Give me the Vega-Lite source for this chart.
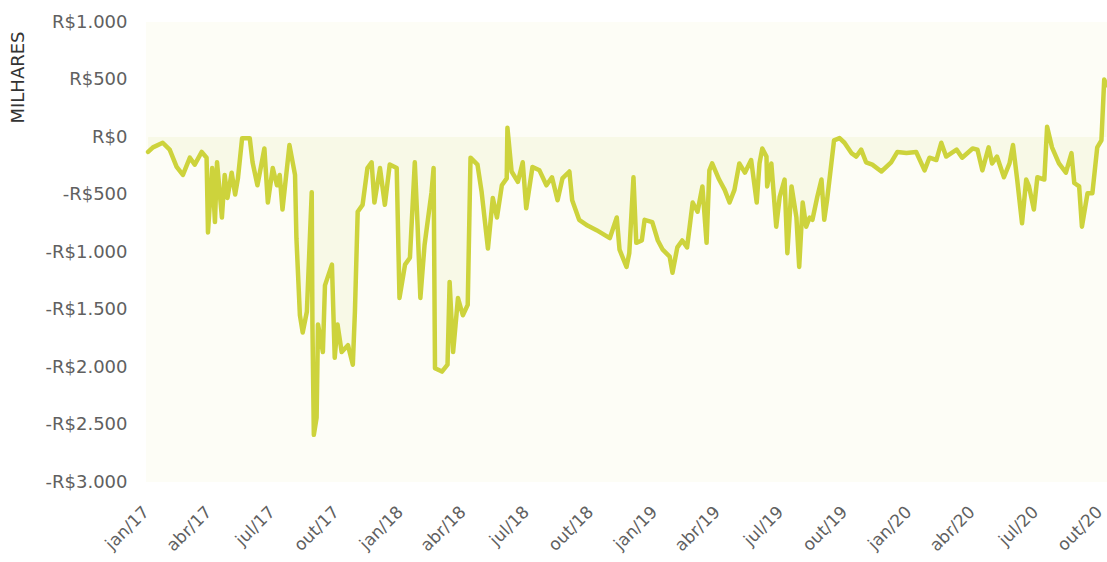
{
  "$schema": "https://vega.github.io/schema/vega-lite/v6.json",
  "width": 961,
  "height": 460,
  "autosize": {"type": "none"},
  "padding": {"left": 146, "top": 22, "right": 0, "bottom": 80},
  "background": "white",
  "config": {
    "view": {"stroke": null, "fill": "#fdfdf6"},
    "axis": {"labelFont": "DejaVu Sans", "titleFont": "DejaVu Sans", "grid": false, "domain": false, "ticks": false, "tickSize": 0}
  },
  "data": {"values": [
    {"d": "2017-01-04", "v": -130}, {"d": "2017-01-11", "v": -90}, {"d": "2017-01-25", "v": -50}, {"d": "2017-02-04", "v": -110},
    {"d": "2017-02-14", "v": -260}, {"d": "2017-02-23", "v": -330}, {"d": "2017-03-05", "v": -180}, {"d": "2017-03-12", "v": -240},
    {"d": "2017-03-22", "v": -130}, {"d": "2017-03-29", "v": -180}, {"d": "2017-03-31", "v": -830}, {"d": "2017-04-06", "v": -270},
    {"d": "2017-04-10", "v": -740}, {"d": "2017-04-13", "v": -220}, {"d": "2017-04-20", "v": -700}, {"d": "2017-04-24", "v": -330},
    {"d": "2017-04-28", "v": -530}, {"d": "2017-05-04", "v": -310}, {"d": "2017-05-09", "v": -500}, {"d": "2017-05-13", "v": -360},
    {"d": "2017-05-19", "v": -10}, {"d": "2017-05-30", "v": -10}, {"d": "2017-06-03", "v": -220}, {"d": "2017-06-10", "v": -420},
    {"d": "2017-06-20", "v": -100}, {"d": "2017-06-25", "v": -570}, {"d": "2017-07-02", "v": -270}, {"d": "2017-07-08", "v": -420},
    {"d": "2017-07-12", "v": -330}, {"d": "2017-07-16", "v": -630}, {"d": "2017-07-26", "v": -70}, {"d": "2017-08-03", "v": -330},
    {"d": "2017-08-05", "v": -880}, {"d": "2017-08-10", "v": -1550}, {"d": "2017-08-14", "v": -1700}, {"d": "2017-08-20", "v": -1520},
    {"d": "2017-08-27", "v": -480}, {"d": "2017-08-28", "v": -1630}, {"d": "2017-08-30", "v": -2590}, {"d": "2017-09-03", "v": -2440},
    {"d": "2017-09-05", "v": -1630}, {"d": "2017-09-12", "v": -1870}, {"d": "2017-09-15", "v": -1290}, {"d": "2017-09-25", "v": -1110},
    {"d": "2017-09-29", "v": -1920}, {"d": "2017-10-03", "v": -1630}, {"d": "2017-10-09", "v": -1870}, {"d": "2017-10-18", "v": -1810},
    {"d": "2017-10-25", "v": -1980}, {"d": "2017-10-28", "v": -1520}, {"d": "2017-11-01", "v": -650}, {"d": "2017-11-08", "v": -590},
    {"d": "2017-11-15", "v": -270}, {"d": "2017-11-21", "v": -220}, {"d": "2017-11-25", "v": -570}, {"d": "2017-12-03", "v": -270},
    {"d": "2017-12-10", "v": -590}, {"d": "2017-12-17", "v": -240}, {"d": "2017-12-27", "v": -270}, {"d": "2017-12-31", "v": -1400},
    {"d": "2018-01-08", "v": -1110}, {"d": "2018-01-15", "v": -1050}, {"d": "2018-01-22", "v": -220}, {"d": "2018-01-26", "v": -770},
    {"d": "2018-01-30", "v": -1400}, {"d": "2018-02-05", "v": -940}, {"d": "2018-02-15", "v": -480}, {"d": "2018-02-18", "v": -270},
    {"d": "2018-02-20", "v": -2010}, {"d": "2018-03-02", "v": -2040}, {"d": "2018-03-10", "v": -1980}, {"d": "2018-03-13", "v": -1260},
    {"d": "2018-03-18", "v": -1870}, {"d": "2018-03-25", "v": -1400}, {"d": "2018-04-01", "v": -1550}, {"d": "2018-04-08", "v": -1460},
    {"d": "2018-04-12", "v": -180}, {"d": "2018-04-22", "v": -240}, {"d": "2018-04-28", "v": -480}, {"d": "2018-05-07", "v": -970},
    {"d": "2018-05-14", "v": -530}, {"d": "2018-05-20", "v": -700}, {"d": "2018-05-27", "v": -420}, {"d": "2018-06-03", "v": -360},
    {"d": "2018-06-04", "v": 80}, {"d": "2018-06-10", "v": -300}, {"d": "2018-06-19", "v": -390}, {"d": "2018-06-26", "v": -220},
    {"d": "2018-07-01", "v": -620}, {"d": "2018-07-10", "v": -260}, {"d": "2018-07-20", "v": -290}, {"d": "2018-07-30", "v": -420},
    {"d": "2018-08-07", "v": -350}, {"d": "2018-08-15", "v": -550}, {"d": "2018-08-22", "v": -360}, {"d": "2018-09-01", "v": -300},
    {"d": "2018-09-05", "v": -550}, {"d": "2018-09-15", "v": -720}, {"d": "2018-09-27", "v": -770}, {"d": "2018-10-10", "v": -810},
    {"d": "2018-10-29", "v": -880}, {"d": "2018-11-08", "v": -700}, {"d": "2018-11-12", "v": -980}, {"d": "2018-11-22", "v": -1130},
    {"d": "2018-11-26", "v": -1010}, {"d": "2018-12-02", "v": -350}, {"d": "2018-12-06", "v": -920}, {"d": "2018-12-14", "v": -900},
    {"d": "2018-12-18", "v": -720}, {"d": "2018-12-29", "v": -740}, {"d": "2019-01-06", "v": -900}, {"d": "2019-01-13", "v": -980},
    {"d": "2019-01-23", "v": -1040}, {"d": "2019-01-27", "v": -1180}, {"d": "2019-02-03", "v": -960}, {"d": "2019-02-10", "v": -900},
    {"d": "2019-02-17", "v": -960}, {"d": "2019-02-25", "v": -570}, {"d": "2019-03-04", "v": -650}, {"d": "2019-03-11", "v": -430},
    {"d": "2019-03-17", "v": -920}, {"d": "2019-03-21", "v": -290}, {"d": "2019-03-25", "v": -230}, {"d": "2019-04-04", "v": -370},
    {"d": "2019-04-12", "v": -460}, {"d": "2019-04-19", "v": -570}, {"d": "2019-04-26", "v": -460}, {"d": "2019-05-03", "v": -230},
    {"d": "2019-05-11", "v": -310}, {"d": "2019-05-20", "v": -200}, {"d": "2019-05-28", "v": -570}, {"d": "2019-06-01", "v": -230},
    {"d": "2019-06-05", "v": -100}, {"d": "2019-06-11", "v": -170}, {"d": "2019-06-12", "v": -430}, {"d": "2019-06-18", "v": -230},
    {"d": "2019-06-25", "v": -780}, {"d": "2019-06-30", "v": -520}, {"d": "2019-07-07", "v": -370}, {"d": "2019-07-11", "v": -1010},
    {"d": "2019-07-17", "v": -430}, {"d": "2019-07-24", "v": -700}, {"d": "2019-07-28", "v": -1130}, {"d": "2019-08-02", "v": -570},
    {"d": "2019-08-07", "v": -780}, {"d": "2019-08-12", "v": -700}, {"d": "2019-08-16", "v": -720}, {"d": "2019-08-23", "v": -520},
    {"d": "2019-08-29", "v": -370}, {"d": "2019-09-02", "v": -720}, {"d": "2019-09-06", "v": -550}, {"d": "2019-09-16", "v": -30},
    {"d": "2019-09-24", "v": -10}, {"d": "2019-10-01", "v": -50}, {"d": "2019-10-11", "v": -140}, {"d": "2019-10-18", "v": -170},
    {"d": "2019-10-25", "v": -110}, {"d": "2019-11-01", "v": -220}, {"d": "2019-11-10", "v": -240}, {"d": "2019-11-23", "v": -300},
    {"d": "2019-12-07", "v": -220}, {"d": "2019-12-16", "v": -130}, {"d": "2019-12-29", "v": -140}, {"d": "2020-01-12", "v": -130},
    {"d": "2020-01-24", "v": -290}, {"d": "2020-01-31", "v": -180}, {"d": "2020-02-10", "v": -200}, {"d": "2020-02-17", "v": -50},
    {"d": "2020-02-24", "v": -170}, {"d": "2020-03-10", "v": -110}, {"d": "2020-03-18", "v": -180}, {"d": "2020-04-02", "v": -100},
    {"d": "2020-04-09", "v": -110}, {"d": "2020-04-16", "v": -290}, {"d": "2020-04-25", "v": -90}, {"d": "2020-04-30", "v": -230},
    {"d": "2020-05-07", "v": -170}, {"d": "2020-05-17", "v": -350}, {"d": "2020-05-25", "v": -230}, {"d": "2020-05-30", "v": -70},
    {"d": "2020-06-05", "v": -370}, {"d": "2020-06-12", "v": -750}, {"d": "2020-06-18", "v": -370}, {"d": "2020-06-22", "v": -430},
    {"d": "2020-06-29", "v": -630}, {"d": "2020-07-04", "v": -350}, {"d": "2020-07-14", "v": -370}, {"d": "2020-07-18", "v": 90},
    {"d": "2020-07-25", "v": -90}, {"d": "2020-08-04", "v": -230}, {"d": "2020-08-14", "v": -310}, {"d": "2020-08-22", "v": -140},
    {"d": "2020-08-26", "v": -400}, {"d": "2020-09-02", "v": -430}, {"d": "2020-09-06", "v": -780}, {"d": "2020-09-14", "v": -490},
    {"d": "2020-09-21", "v": -490}, {"d": "2020-09-28", "v": -90}, {"d": "2020-10-04", "v": -30}, {"d": "2020-10-08", "v": 500},
    {"d": "2020-10-11", "v": 450}
  ]},
  "encoding": {
    "x": {
      "field": "d", "type": "temporal",
      "scale": {"type": "utc", "domain": [{"year": 2017, "month": 1, "date": 1, "utc": true}, {"year": 2020, "month": 10, "date": 12, "utc": true}]},
      "axis": {
        "title": null,
        "tickCount": {"interval": "month", "step": 3},
        "labelExpr": "['jan','fev','mar','abr','mai','jun','jul','ago','set','out','nov','dez'][utcmonth(datum.value)] + '/' + utcFormat(datum.value, '%y')",
        "labelAngle": -45, "labelAlign": "right", "labelBaseline": "middle",
        "labelPadding": 27, "labelFontSize": 17, "labelColor": "#606060",
        "labelOverlap": false, "labelBound": false, "labelFlush": false
      }
    },
    "y": {
      "field": "v", "type": "quantitative",
      "scale": {"domain": [-3000, 1000], "nice": false, "zero": false},
      "axis": {
        "title": "MILHARES",
        "values": [-3000, -2500, -2000, -1500, -1000, -500, 0, 500, 1000],
        "labelExpr": "(datum.value < 0 ? '-' : '') + 'R$' + replace(format(abs(datum.value), ',.0f'), ',', '.')",
        "labelFontSize": 18, "labelColor": "#606060", "labelPadding": 19,
        "labelOverlap": false, "labelBound": false, "labelFlush": false,
        "titleFontSize": 18, "titleFontWeight": "normal", "titleColor": "#333333",
        "titleAngle": 270, "titleAlign": "center", "titleBaseline": "middle",
        "titleX": -128, "titleY": 55
      }
    }
  },
  "layer": [
    {
      "mark": {"type": "area", "color": "#eef1c4", "opacity": 0.3, "interpolate": "linear"},
      "encoding": {"y2": {"datum": 0}}
    },
    {
      "mark": {"type": "line", "color": "#cdd33c", "strokeWidth": 4.5, "strokeJoin": "round", "strokeCap": "round"}
    }
  ]
}
